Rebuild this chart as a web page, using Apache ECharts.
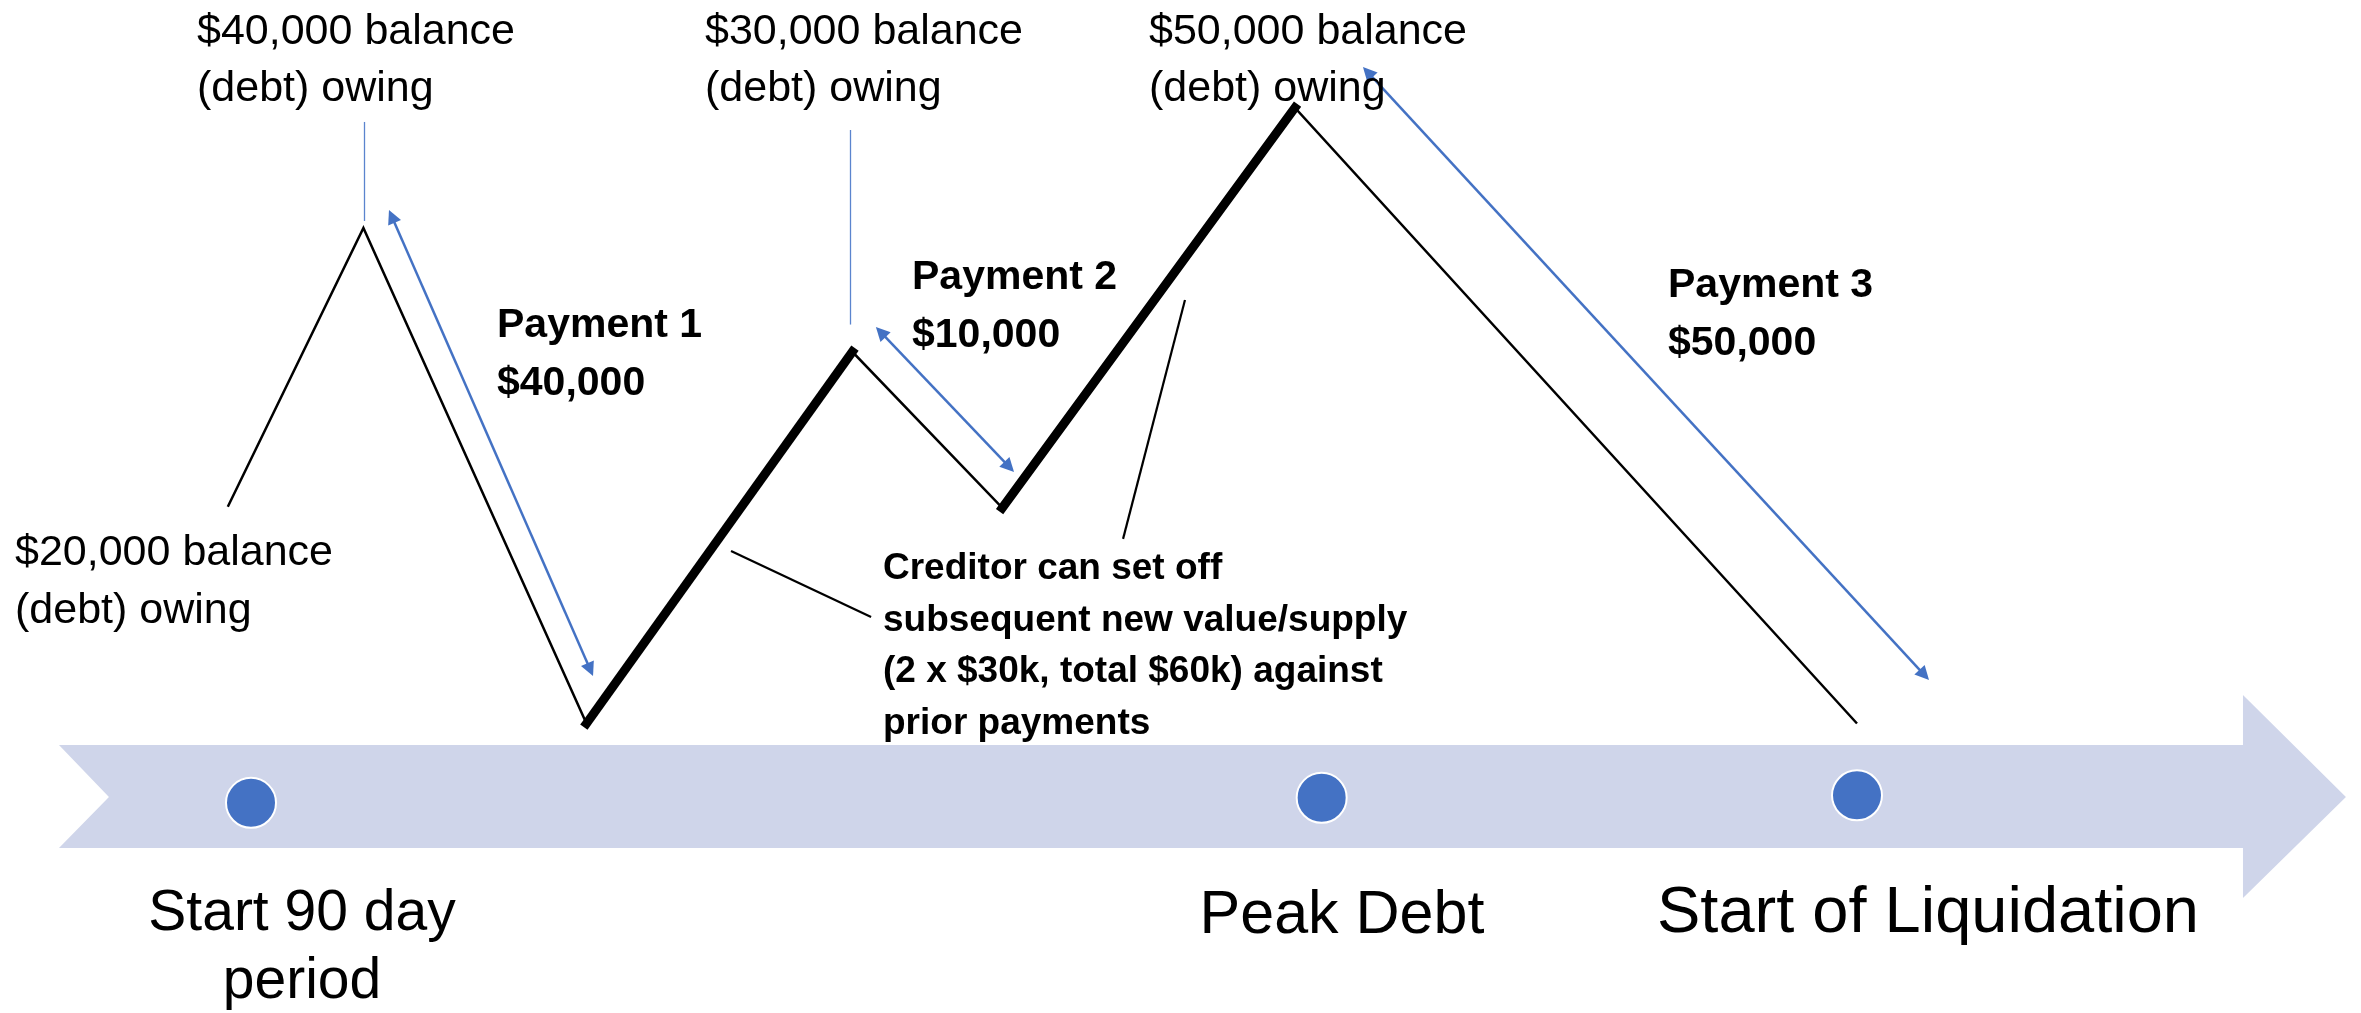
<!DOCTYPE html>
<html>
<head>
<meta charset="utf-8">
<script src="https://cdn.jsdelivr.net/npm/echarts@6/dist/echarts.min.js"></script>
<style>
  html, body { margin: 0; padding: 0; background: #ffffff; }
  #chart { width: 2361px; height: 1013px; }
</style>
</head>
<body>
<div id="chart"></div>
<script>
// ---- data (x: days into the 90-day period, y: debt owing in $k) ----
const debtDays = [-1.3, 6.3, 18.8, 33.7, 42.1, 58.5, 90];
const debtK = [17.5, 40, 0, 30, 17.4, 49.7, 0];
const newValueSegments = [[2, 3], [4, 5]]; // thick segments: new value / supply

const milestoneDays = [0, 60, 90];
const milestoneY = [-6.4, -6.0, -5.8];
const milestoneLabels = [['Start 90 day', 'period'], ['Peak Debt'], ['Start of Liquidation']];

const paymentArrows = [
  [[7.89, 40.93], [19.01, 4.35]],
  [[35.29, 31.59], [42.49, 20.71]],
  [[62.58, 52.57], [93.77, 3.92]]
];
const balanceLeaders = [
  [[6.33, 48.55], [6.33, 40.56]],
  [[33.57, 47.9], [33.57, 32.2]]
];
const noteLeaders = [
  [[26.9, 13.92], [34.75, 8.6]],
  [[52.34, 34.18], [48.87, 14.9]]
];
const timelineBandX = [-10.76, -7.96, 111.63, 117.40];
const timelineBandY = [-1.74, -10.05, 2.30, -14.08, -5.93];

const balanceLabels = [
  ['$40,000 balance', '(debt) owing'],
  ['$30,000 balance', '(debt) owing'],
  ['$50,000 balance', '(debt) owing'],
  ['$20,000 balance', '(debt) owing']
];
const paymentLabels = [
  ['Payment 1', '$40,000'],
  ['Payment 2', '$10,000'],
  ['Payment 3', '$50,000']
];
const setoffNote = [
  'Creditor can set off',
  'subsequent new value/supply',
  '(2 x $30k, total $60k) against',
  'prior payments'
];

// ---- layout ----
const FONT = '"Liberation Sans", Arial, sans-serif';
const BLUE = '#4472C4';
const X_MIN = -10, X_MAX = 95;          // axis range in days
const PX_PER_DAY = 17.8444, DAY0_PX = 251;

function textLines(lines, x, y0, step, size, weight, align) {
  return lines.map((t, i) => ({
    type: 'text',
    x: x,
    y: y0 + i * step,
    z: 50,
    style: {
      text: t,
      fontFamily: FONT,
      fontSize: size,
      fontWeight: weight,
      fill: '#000000',
      textAlign: align,
      textVerticalAlign: 'middle',
      verticalAlign: 'middle'
    }
  }));
}

const balancePos = [[197, 32, 57], [705, 32, 57], [1149, 32, 57], [15, 553, 58]];
const paymentPos = [[497, 326], [912, 278], [1668, 286]];
const milestonePos = [[302, 914, 57], [1342, 916, 61], [1928, 914, 65]];

let graphics = [];
balanceLabels.forEach((l, i) => {
  graphics = graphics.concat(textLines(l, balancePos[i][0], balancePos[i][1], balancePos[i][2], 43, 'normal', 'left'));
});
paymentLabels.forEach((l, i) => {
  graphics = graphics.concat(textLines(l, paymentPos[i][0], paymentPos[i][1], 58, 41, 'bold', 'left'));
});
graphics = graphics.concat(textLines(setoffNote, 883, 569, 51.5, 37, 'bold', 'left'));
milestoneLabels.forEach((l, i) => {
  graphics = graphics.concat(textLines(l, milestonePos[i][0], milestonePos[i][1], 68, milestonePos[i][2], 'normal', 'center'));
});

const debtPath = debtDays.map((d, i) => [d, debtK[i]]);

const series = [
  {
    type: 'custom',
    z: 1,
    clip: false,
    silent: true,
    data: [[0, 0]],
    renderItem: function (params, api) {
      const X = timelineBandX, Y = timelineBandY;
      const pts = [
        [X[0], Y[0]], [X[2], Y[0]], [X[2], Y[2]], [X[3], Y[4]],
        [X[2], Y[3]], [X[2], Y[1]], [X[0], Y[1]], [X[1], Y[4]]
      ].map(p => api.coord(p));
      return { type: 'polygon', shape: { points: pts }, style: { fill: '#CFD5EA' } };
    }
  },
  {
    type: 'scatter',
    z: 3,
    data: milestoneDays.map((d, i) => [d, milestoneY[i]]),
    symbolSize: 50,
    itemStyle: { color: BLUE, borderColor: '#ffffff', borderWidth: 2, opacity: 1 },
    clip: false,
    silent: true
  },
  {
    type: 'line',
    z: 5,
    data: debtPath,
    showSymbol: false,
    symbol: 'none',
    clip: false,
    lineStyle: { color: '#000000', width: 2.5, join: 'miter' },
    silent: true
  }
];
newValueSegments.forEach(seg => {
  series.push({
    type: 'line',
    z: 6,
    data: [debtPath[seg[0]], debtPath[seg[1]]],
    showSymbol: false,
    symbol: 'none',
    clip: false,
    lineStyle: { color: '#000000', width: 9, cap: 'square' },
    silent: true
  });
});
series.push({
  type: 'lines',
  coordinateSystem: 'cartesian2d',
  z: 7,
  clip: false,
  symbol: ['triangle', 'triangle'],
  symbolSize: 14,
  lineStyle: { color: BLUE, width: 2.5, opacity: 1, curveness: 0 },
  data: paymentArrows.map(c => ({ coords: c })),
  silent: true
});
series.push({
  type: 'lines',
  coordinateSystem: 'cartesian2d',
  z: 7,
  clip: false,
  symbol: ['none', 'none'],
  lineStyle: { color: '#5B84CE', width: 1.3, opacity: 1, curveness: 0 },
  data: balanceLeaders.map(c => ({ coords: c })),
  silent: true
});
series.push({
  type: 'lines',
  coordinateSystem: 'cartesian2d',
  z: 7,
  clip: false,
  symbol: ['none', 'none'],
  lineStyle: { color: '#000000', width: 2.2, opacity: 1, curveness: 0 },
  data: noteLeaders.map(c => ({ coords: c })),
  silent: true
});

const gridLeft = DAY0_PX + X_MIN * PX_PER_DAY;
const gridWidth = (X_MAX - X_MIN) * PX_PER_DAY;

const chart = echarts.init(document.getElementById('chart'), null, { renderer: 'canvas' });
chart.setOption({
  backgroundColor: '#ffffff',
  animation: false,
  grid: { left: gridLeft, width: gridWidth, top: 104, bottom: 289.5, containLabel: false },
  xAxis: { type: 'value', min: X_MIN, max: X_MAX, show: false },
  yAxis: { type: 'value', min: 0, max: 50, show: false },
  series: series,
  graphic: graphics
});
</script>
</body>
</html>
